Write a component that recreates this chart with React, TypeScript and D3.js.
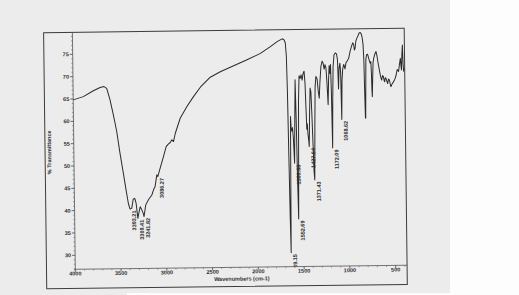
import React from "react";
import * as d3 from "d3";

// ---- data ----
const wavenumbers = [
  4000, 3889, 3779, 3705, 3662, 3633, 3598, 3563, 3529, 3496, 3462, 3435, 3411, 3393.21, 3375, 3358, 3341, 3327,
  3309.41, 3299, 3283, 3266, 3250, 3241.82, 3222, 3190, 3154, 3136, 3117, 3097, 3086.27, 3065, 3021, 2991, 2965,
  2946, 2928, 2910, 2890, 2834, 2759, 2686, 2610, 2500, 2390, 2243, 2096, 1949, 1839, 1765,
  1710, 1690, 1676, 1666, 1659, 1652, 1645, 1639.15, 1634, 1629, 1623, 1616, 1608, 1600, 1589.88, 1582, 1574, 1567,
  1560, 1552.69, 1546, 1539, 1530, 1518, 1508, 1497, 1487, 1475, 1466, 1458, 1452, 1446, 1440, 1433, 1427.64, 1420,
  1411, 1403, 1395, 1386, 1378, 1371.43, 1364, 1356, 1346, 1333, 1322, 1312, 1303, 1290, 1276, 1266, 1255, 1245,
  1235, 1226, 1216, 1208, 1200, 1192, 1185, 1179, 1172.09, 1165, 1157, 1145, 1130, 1118, 1108, 1100, 1092, 1082,
  1075, 1068.62, 1061, 1052, 1040, 1027, 1015, 1000, 985, 968, 953, 940, 930, 922, 914, 905, 892, 880, 868, 856,
  845, 836, 827, 820, 815, 810, 807, 803, 798, 790, 778, 768, 758, 750, 744, 739, 735, 732, 727, 720, 712, 700,
  686, 676, 663, 652, 640, 628, 618, 609, 601, 595, 588, 581, 572, 563, 553, 544, 535, 527, 515, 501, 490, 479,
  468, 457, 449, 442, 432, 421, 415, 410, 404, 397, 392, 387, 382,
];
const transmittance = [
  64.8, 65.5, 66.8, 67.5, 67.7, 67.3, 64.7, 61.3, 57.6, 52.7, 48.2, 44.5, 41.4, 40.2, 40.4, 42.4, 42.6, 41.5,
  38.1, 39.2, 40.7, 40.0, 39.2, 38.5, 41.1, 42.3, 43.3, 44.4, 45.2, 47.8, 47.4, 48.9, 51.9, 54.1, 54.7,
  55.0, 55.6, 55.2, 57.0, 60.4, 63.0, 65.2, 67.3, 69.5, 70.7, 72.0, 73.3, 74.7, 76.2, 77.3,
  77.9, 77.7, 77.0, 74.0, 66, 52, 38, 30.0, 46, 60.5, 57.8, 57.2, 58.0, 55.5, 50.0, 60, 68.7, 60,
  47, 37.5, 50, 64, 69.6, 69.0, 69.8, 68.6, 70.0, 70.6, 68, 62, 57.6, 58.8, 56.5, 55.2, 53.7, 61,
  66.8, 66.0, 61, 54, 48, 46.2, 58, 67, 69.4, 68.8, 66, 64.5, 68, 71.6, 72.8, 72.4, 71, 72.0,
  71.2, 68, 63, 68.5, 71.8, 70, 72.0, 66, 53.3, 64, 71.5, 74.2, 74.6, 74.4, 73, 66.5, 71.2, 72.3,
  70, 59.7, 68.5, 71.0, 72.0, 71.0, 72.4, 72.8, 73.4, 75.0, 76.0, 76.8, 76.5, 75.2, 75.6, 77.2, 77.9, 78.4, 79.0, 79.1,
  78.8, 78.0, 76.5, 73, 66, 60, 59.9, 66, 73, 74.1, 74.2, 73.4, 72.6, 72.2, 72.6, 70, 66, 64.7, 68, 72.2, 73.3, 74.2,
  74.8, 73.8, 72, 70.7, 69.3, 68.4, 69.4, 69.2, 68.3, 68.0, 68.9, 68.8, 68.2, 67.6, 68.6, 68.4, 67.5, 66.9, 67.5, 67.9, 68.3, 68.8,
  69.6, 70.7, 70.5, 70.3, 71.8, 73.2, 71.5, 70.6, 74, 76.2, 72, 70.3, 71,
];

const peakWavenumbers = [3393.21, 3309.41, 3241.82, 3086.27, 1639.15, 1589.88, 1552.69, 1427.64, 1371.43, 1172.09, 1068.62];
const peakTransmittance = [40.2, 38.1, 38.5, 47.4, 30.0, 50.0, 37.5, 53.7, 46.2, 53.3, 59.7];
const peakLabels = ["3393.21", "3309.41", "3241.82", "3086.27", "1639.15", "1589.88", "1552.69", "1427.64", "1371.43", "1172.09", "1068.62"];

const xTickValues = [4000, 3500, 3000, 2500, 2000, 1500, 1000, 500];
const yTickValues = [30, 35, 40, 45, 50, 55, 60, 65, 70, 75];
const xAxisTitle = "Wavenumbers (cm-1)";
const yAxisTitle = "% Transmittance";

export default function App() {
  const W = 519;
  const H = 295;
  const plotLeft = 75.3;
  const plotRight = 407.1;
  const plotTop = 32.3;
  const plotBottom = 269.3;
  const frameLeft = 46.5;
  const frameBottom = 288.5;

  const x = d3.scaleLinear().domain([4000, 375]).range([plotLeft, plotRight]);
  const y = d3.scaleLinear().domain([26.87, 79.93]).range([plotBottom, plotTop]);

  const pts = wavenumbers.map((w, i) => [w, transmittance[i]] as [number, number]);
  const line = d3
    .line<[number, number]>()
    .x((d) => x(d[0]))
    .y((d) => y(d[1]));
  const path = line(pts) || "";

  const yMinor = d3.range(27, 80, 1).filter((v) => v % 5 !== 0);
  const xMinor = d3.range(400, 4000, 100).filter((v) => v % 500 !== 0);

  const font = "'Liberation Sans', Arial, sans-serif";
  const ink = "#2e2e2e";

  return (
    <svg
      width={W}
      height={H}
      viewBox={`0 0 ${W} ${H}`}
      style={{ position: "fixed", left: 0, top: 0, display: "block" }}
    >
      <rect x={0} y={0} width={W} height={H} fill="#fdfdfd" />
      <rect x={0} y={0} width={450} height={293} fill="#ececec" />
      <rect x={0} y={293} width={127} height={2} fill="#ececec" />
      <defs>
        <clipPath id="plotClip">
          <rect x={plotLeft} y={plotTop} width={plotRight - plotLeft} height={plotBottom - plotTop} />
        </clipPath>
      </defs>
      <g transform={`rotate(-0.7, ${plotLeft}, ${plotBottom})`}>
        {/* outer frame */}
        <rect
          x={frameLeft}
          y={plotTop}
          width={plotRight - frameLeft}
          height={frameBottom - plotTop}
          fill="none"
          stroke="#3c3c3c"
          strokeWidth={1}
        />
        {/* axes lines */}
        <line x1={plotLeft} y1={plotTop} x2={plotLeft} y2={plotBottom + 1} stroke="#555" strokeWidth={0.8} />
        <line x1={plotLeft - 1} y1={plotBottom} x2={plotRight} y2={plotBottom} stroke="#555" strokeWidth={0.8} />
        {/* y ticks */}
        {yMinor.map((v) => (
          <line key={"ym" + v} x1={plotLeft - 1.5} x2={plotLeft} y1={y(v)} y2={y(v)} stroke="#666" strokeWidth={0.6} />
        ))}
        {yTickValues.map((v) => (
          <g key={"y" + v}>
            <line x1={plotLeft - 3} x2={plotLeft} y1={y(v)} y2={y(v)} stroke="#444" strokeWidth={0.8} />
            <text
              x={plotLeft - 4}
              y={y(v)}
              dy="0.35em"
              textAnchor="end"
              fontFamily={font}
              fontWeight="bold"
              fontSize={5.5}
              fill={ink}
            >
              {v}
            </text>
          </g>
        ))}
        {/* x ticks */}
        {xMinor.map((v) => (
          <line key={"xm" + v} x1={x(v)} x2={x(v)} y1={plotBottom} y2={plotBottom + 1.5} stroke="#666" strokeWidth={0.6} />
        ))}
        {xTickValues.map((v) => (
          <g key={"x" + v}>
            <line x1={x(v)} x2={x(v)} y1={plotBottom} y2={plotBottom + 2.5} stroke="#444" strokeWidth={0.8} />
            <text
              x={x(v)}
              y={plotBottom + 6.2}
              textAnchor="middle"
              fontFamily={font}
              fontWeight="bold"
              fontSize={5.5}
              fill={ink}
            >
              {v}
            </text>
          </g>
        ))}
        <text
          x={(plotLeft + plotRight) / 2 + 0.5}
          y={282.7}
          textAnchor="middle"
          fontFamily={font}
          fontWeight="bold"
          fontSize={5.5}
          fill={ink}
        >
          {xAxisTitle}
        </text>
        <text
          transform={`translate(52.6, 152) rotate(-90)`}
          textAnchor="middle"
          fontFamily={font}
          fontWeight="bold"
          fontSize={5.5}
          fill={ink}
        >
          {yAxisTitle}
        </text>
        {/* spectrum */}
        <path d={path} fill="none" stroke="#2a2a2a" strokeWidth={1} strokeLinejoin="round" />
        {/* peak labels */}
        <g clipPath="url(#plotClip)">
          {peakWavenumbers.map((w, i) => (
            <text
              key={"p" + i}
              transform={`translate(${x(w) + 5.8}, ${y(peakTransmittance[i]) + 1.5}) rotate(-90)`}
              textAnchor="end"
              fontFamily={font}
              fontWeight="bold"
              fontSize={5.5}
              fill={ink}
            >
              {peakLabels[i]}
            </text>
          ))}
        </g>
      </g>
    </svg>
  );
}
